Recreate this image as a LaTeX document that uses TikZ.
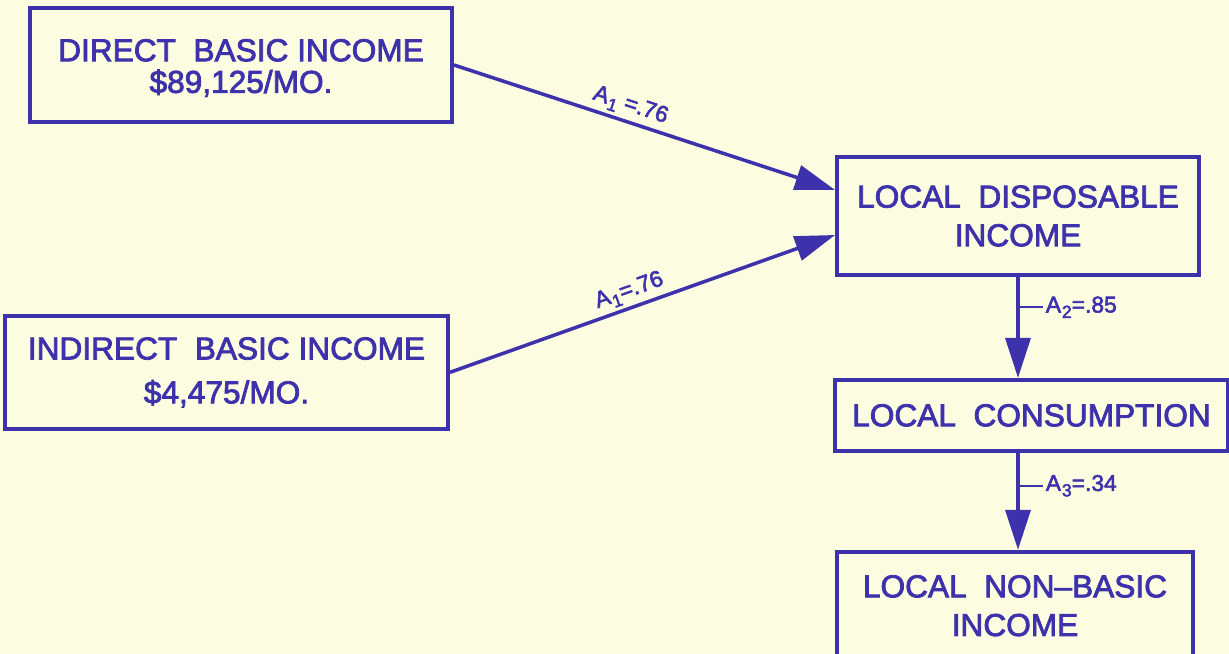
\documentclass[tikz,border=0pt]{standalone}
\usepackage{fontspec}
\setmainfont{Liberation Sans}
\newfontfamily\lettering{Liberation Sans}[Ligatures=TeX,FakeBold=2.5]
\usetikzlibrary{arrows.meta,positioning}

\definecolor{ink}{RGB}{62,50,172}
\definecolor{paper}{RGB}{252,252,224}

\newcommand{\sub}[1]{\kern0.5pt\raisebox{-0.45ex}{\fontsize{10}{10}\selectfont #1}}

\tikzset{
  rect/.style={draw=ink,text=ink,line width=2.2pt,rectangle,inner sep=0pt,
    align=center,font=\lettering\fontsize{18}{22}\selectfont},
  flow/.style={draw=ink,line width=2pt,-{Triangle[length=0.8cm,width=0.5cm]}},
  coef/.style={text=ink,font=\lettering\fontsize{13}{14}\selectfont,inner sep=2pt},
}

\begin{document}
\begin{tikzpicture}

\fill[paper] (0,0) rectangle (24.58,13.08);
\useasboundingbox (0,0) rectangle (24.58,13.08);

\node[rect,minimum width=8.44cm,minimum height=2.28cm](direct) at (4.82,11.78)
  {\rule{0pt}{16pt}DIRECT \ BASIC INCOME\\[-4pt]\$89,125/MO.};
\node[rect,minimum width=8.86cm,minimum height=2.26cm,below=3.8cm of direct,xshift=-0.29cm](indirect)
  {INDIRECT \ BASIC INCOME\\[3pt]\$4,475/MO.};
\node[rect,minimum width=7.24cm,minimum height=2.36cm](disp) at (20.36,8.76)
  {LOCAL \ DISPOSABLE\\INCOME};
\node[rect,minimum width=7.86cm,minimum height=1.42cm,below=2.02cm of disp,xshift=0.27cm](cons)
  {LOCAL \ CONSUMPTION};
\node[rect,minimum width=7.12cm,minimum height=2.16cm,below=1.94cm of cons,xshift=-0.33cm](nonbasic)
  {LOCAL \ NON--BASIC\\INCOME};

\draw[flow] (direct.east) -- ([yshift=0.52cm]disp.west)
             node[coef,pos=.45,sloped,above]{A\sub{1} =.76};
\draw[flow] (indirect.east) -- ([yshift=-0.38cm]disp.west)
             node[coef,pos=.48,sloped,above]{A\sub{1}=.76};

\draw[flow] (disp.south) -- (disp.south |- cons.north) coordinate[pos=.3](t2);
\draw[flow] (disp.south |- cons.south) -- (disp.south |- nonbasic.north) coordinate[pos=.34](t3);

\draw[ink,line width=1.2pt] (t2) -- ++(0.5,0)
             node[coef,right,inner sep=1pt]{A\sub{2}=.85};
\draw[ink,line width=1.2pt] (t3) -- ++(0.5,0)
             node[coef,right,inner sep=1pt]{A\sub{3}=.34};

\end{tikzpicture}
\end{document}
